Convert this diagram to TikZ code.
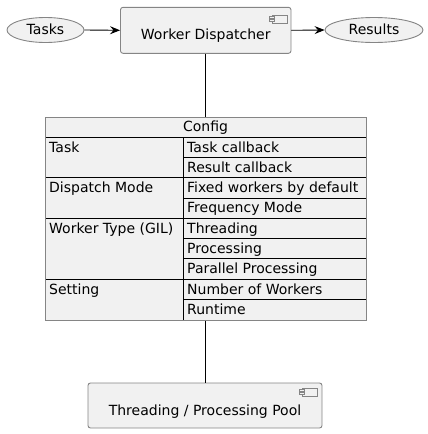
\documentclass[tikz,border=0pt]{standalone}
\usepackage{fontspec}
\setmainfont{DejaVu Sans}
\usetikzlibrary{arrows.meta,shapes.geometric}
\definecolor{boxfill}{HTML}{F1F1F1}
\definecolor{boxline}{HTML}{858585}
\begin{document}
\begin{tikzpicture}[x=1pt,y=-1pt,
  font=\fontsize{14}{16}\selectfont,
  usecase/.style={ellipse, draw=boxline, fill=boxfill, line width=0.9pt, inner sep=0pt},
  comp/.style={rectangle, draw=boxline, fill=boxfill, line width=0.9pt, rounded corners=2.5pt, inner sep=0pt},
  tablebox/.style={rectangle, draw=boxline, fill=boxfill, line width=0.9pt, inner sep=0pt, anchor=north west},
  conn/.style={draw=black, line width=0.9pt},
  arr/.style={conn, -{Stealth[length=10pt, width=8pt, inset=3.5pt]}},
  inner/.style={draw=black, line width=0.8pt},
  cell/.style={anchor=base west, inner sep=0pt},
  icon/.style={draw=boxline, fill=boxfill, line width=0.7pt}
]
\useasboundingbox (0,0) rectangle (428,434);

% use cases
\node[usecase, minimum width=77pt, minimum height=25pt] (tasks) at (45.5,30) {};
\node[anchor=base, inner sep=0pt] (taskst) at (45.5,34) {Tasks};
\node[usecase, minimum width=98pt, minimum height=25pt] (results) at (374,30) {};
\node[anchor=base, inner sep=0pt] (resultst) at (374,34) {Results};

% dispatcher component
\node[comp, minimum width=170.5pt, minimum height=46pt] (disp) at (205.75,30.3) {};
\node[anchor=base, inner sep=0pt] (dispt) at (205.75,39.5) {Worker Dispatcher};
\draw[icon] (272,15.5) rectangle (287,23);
\draw[icon] (269.5,16.8) rectangle (274.5,18.8);
\draw[icon] (269.5,19.8) rectangle (274.5,21.8);

% pool component
\node[comp, minimum width=234pt, minimum height=45pt] (pool) at (205,405.5) {};
\node[anchor=base, inner sep=0pt] (poolt) at (205,415) {Threading / Processing Pool};
\draw[icon] (302,388.5) rectangle (317,396);
\draw[icon] (299.5,389.8) rectangle (304.5,391.8);
\draw[icon] (299.5,392.8) rectangle (304.5,394.8);

% config table
\node[tablebox, minimum width=321pt, minimum height=202.7pt] (cfg) at (45,117) {};
\def\rh{20.3}
\coordinate (L) at (45,0);
\coordinate (M) at (183,0);
\coordinate (R) at (366,0);
% full-width lines
\foreach \k in {0,2,4,7}{
  \draw[inner] (45,{137+\k*\rh}) -- (366,{137+\k*\rh});
}
% right-column lines
\foreach \k in {1,3,5,6,8}{
  \draw[inner] (183,{137+\k*\rh}) -- (366,{137+\k*\rh});
}
\draw[inner] (183,137) -- (183,319.7);
\draw[draw=boxline, line width=0.9pt] (cfg.north west) rectangle (cfg.south east);

\node[anchor=base, inner sep=0pt] (hdr) at (205.5,131) {Config};
\node[cell] (c1) at (49,{137+0*\rh+15}) {Task};
\node[cell] (c2) at (49,{137+2*\rh+15}) {Dispatch Mode};
\node[cell] (c3) at (49,{137+4*\rh+15}) {Worker Type (GIL)};
\node[cell] (c4) at (49,{137+7*\rh+15}) {Setting};
\node[cell] (r1) at (187,{137+0*\rh+15}) {Task callback};
\node[cell] (r2) at (187,{137+1*\rh+15}) {Result callback};
\node[cell] (r3) at (187,{137+2*\rh+15}) {Fixed workers by default};
\node[cell] (r4) at (187,{137+3*\rh+15}) {Frequency Mode};
\node[cell] (r5) at (187,{137+4*\rh+15}) {Threading};
\node[cell] (r6) at (187,{137+5*\rh+15}) {Processing};
\node[cell] (r7) at (187,{137+6*\rh+15}) {Parallel Processing};
\node[cell] (r8) at (187,{137+7*\rh+15}) {Number of Workers};
\node[cell] (r9) at (187,{137+8*\rh+15}) {Runtime};

% connectors
\draw[arr] (tasks.east) -- (disp.west);
\draw[arr] (disp.east) -- (results.west);
\draw[conn] (disp.south) -- (disp.south |- cfg.north);
\draw[conn] (pool.north |- cfg.south) -- (pool.north);
\end{tikzpicture}
\end{document}
